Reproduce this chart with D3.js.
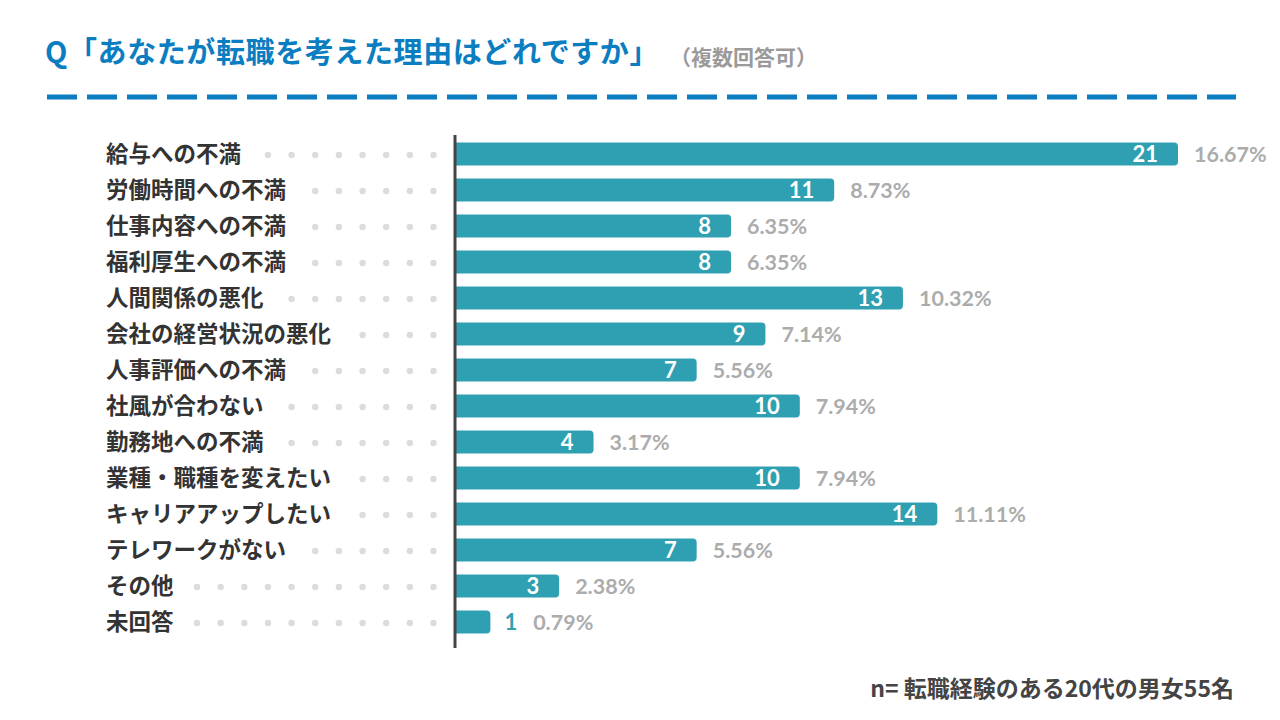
<!DOCTYPE html>
<html><head><meta charset="utf-8">
<script src="https://cdn.jsdelivr.net/npm/d3@7"></script>
<style>body{margin:0;background:#fff}svg{display:block}</style>
</head><body>
<svg id="c" width="1280" height="720"></svg>
<script>
const categories = ["給与への不満","労働時間への不満","仕事内容への不満","福利厚生への不満","人間関係の悪化","会社の経営状況の悪化","人事評価への不満","社風が合わない","勤務地への不満","業種・職種を変えたい","キャリアアップしたい","テレワークがない","その他","未回答"];
const counts = [21,11,8,8,13,9,7,10,4,10,14,7,3,1];
const percents = ["16.67%","8.73%","6.35%","6.35%","10.32%","7.14%","5.56%","7.94%","3.17%","7.94%","11.11%","5.56%","2.38%","0.79%"];
const title = "Q「あなたが転職を考えた理由はどれですか」";
const subtitle = "（複数回答可）";
const footer = "n= 転職経験のある20代の男女55名";

const svg = d3.select("#c");
const JP = "'Noto Sans CJK JP','Noto Sans',sans-serif";
const NUM = "Lato,'Open Sans',sans-serif";
const teal = "#2fa0b2";

svg.append("text").attr("x",45).attr("y",63).attr("font-family",JP).attr("font-weight",700)
  .attr("font-size",29).attr("letter-spacing",0.6).attr("fill","#0b7dc1").text(title);
svg.append("text").attr("x",670).attr("y",65).attr("font-family",JP).attr("font-weight",700)
  .attr("font-size",21).attr("fill","#9a9a9a").text(subtitle);
svg.append("line").attr("x1",47).attr("x2",1236).attr("y1",97).attr("y2",97)
  .attr("stroke","#0b7dc1").attr("stroke-width",5).attr("stroke-dasharray","30 10");

const x0 = 456;
const x = d3.scaleLinear().domain([0,21]).range([x0, 1178]);
const y = d3.scaleBand().domain(categories).range([136, 640]).paddingInner(0.36).paddingOuter(0.18);

// dots
const dotCols = d3.range(11).map(k => 197 + k*23.65);
const g = svg.append("g");
categories.forEach((c,i) => {
  const cy = y(c) + y.bandwidth()/2;
  const t = g.append("text").attr("x",106).attr("y",cy+8).attr("font-family",JP).attr("font-weight",700)
    .attr("font-size",22.5).attr("fill","#333").text(c);
  const end = 106 + t.node().getComputedTextLength();
  dotCols.filter(dx => dx > end + 10).forEach(dx => {
    g.append("circle").attr("cx",dx).attr("cy",cy+1).attr("r",3.2).attr("fill","#dcdcdc");
  });
});

// bars
const bars = svg.append("g");
categories.forEach((c,i) => {
  const v = counts[i];
  const w = x(v) - x0;
  const yy = y(c), h = y.bandwidth();
  const r = 4;
  const p = d3.path();
  p.moveTo(x0, yy); p.lineTo(x0+w-r, yy); p.quadraticCurveTo(x0+w, yy, x0+w, yy+r);
  p.lineTo(x0+w, yy+h-r); p.quadraticCurveTo(x0+w, yy+h, x0+w-r, yy+h); p.lineTo(x0, yy+h); p.closePath();
  bars.append("path").attr("d", p.toString()).attr("fill", teal);
  const cy = yy + h/2;
  let pctX;
  if (w > 40) {
    bars.append("text").attr("x", x0+w-20).attr("y", cy+8).attr("text-anchor","end")
      .attr("font-family",NUM).attr("font-weight",700).attr("font-size",22).attr("fill","#fff").text(v);
    pctX = x0 + w + 16;
  } else {
    const t = bars.append("text").attr("x", x0+w+14).attr("y", cy+8)
      .attr("font-family",NUM).attr("font-weight",700).attr("font-size",22).attr("fill",teal).text(v);
    pctX = x0 + w + 14 + t.node().getComputedTextLength() + 16;
  }
  bars.append("text").attr("x", pctX).attr("y", cy+8).attr("font-family",NUM).attr("font-weight",700)
    .attr("font-size",21.5).attr("fill","#acacac").text(percents[i]);
});

svg.append("line").attr("x1",455).attr("x2",455).attr("y1",135).attr("y2",648)
  .attr("stroke","#444").attr("stroke-width",3);

svg.append("text").attr("x",1234).attr("y",697).attr("text-anchor","end").attr("font-family",JP)
  .attr("font-weight",700).attr("font-size",23).attr("fill","#444").text(footer);
</script>
</body></html>
